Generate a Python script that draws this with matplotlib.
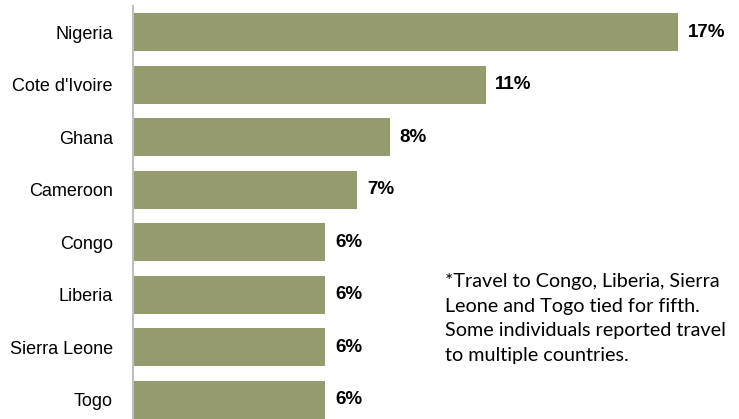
import matplotlib
matplotlib.use("Agg")
import matplotlib.pyplot as plt

countries = ["Nigeria", "Cote d'Ivoire", "Ghana", "Cameroon", "Congo",
             "Liberia", "Sierra Leone", "Togo"]
pct = [17, 11, 8, 7, 6, 6, 6, 6]
note = ("*Travel to Congo, Liberia, Sierra\n"
        "Leone and Togo tied for fifth.\n"
        "Some individuals reported travel\n"
        "to multiple countries.")

W, H = 739, 419
fig = plt.figure(figsize=(W / 100, H / 100), dpi=100)
# axes runs a little past the bottom edge so the last bar is clipped like the source
ax = fig.add_axes([133 / W, -7 / H, 1 - 133 / W, 420 / H])

y = list(range(len(countries)))
ax.barh(y, pct, height=0.72, color="#969b6f", edgecolor="none")
ax.set_ylim(len(countries) - 0.5, -0.5)
ax.set_xlim(0, 18.9)

for yi, v in zip(y, pct):
    ax.text(v + 0.3, yi, f"{v}%", va="center", ha="left",
            fontsize=13.5, fontweight="bold", family="Liberation Sans")

ax.set_yticks(y)
ax.set_yticklabels(countries, fontsize=13, family="Liberation Sans")
ax.tick_params(axis="y", length=0, pad=14.5)
ax.set_xticks([])
for s in ["top", "right", "bottom"]:
    ax.spines[s].set_visible(False)
ax.spines["left"].set_color("#bfbfbf")
ax.spines["left"].set_linewidth(1.5)

fig.text(445 / W, 1 - 273 / H, note, ha="left", va="top", fontsize=14.2,
         family="Lato", linespacing=1.55)

fig.savefig("out.png", dpi=100)
